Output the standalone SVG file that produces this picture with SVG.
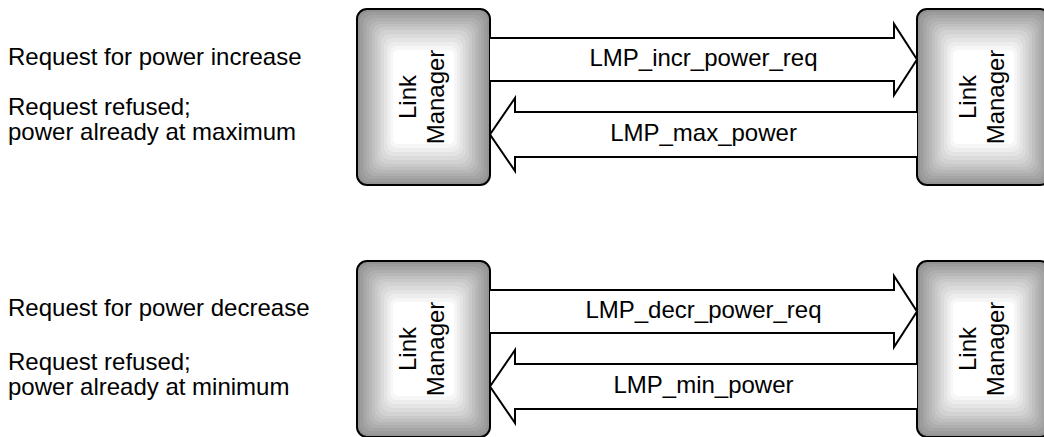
<svg xmlns="http://www.w3.org/2000/svg" width="1044" height="437" viewBox="0 0 1044 437">
  <defs>
    <g id="lmbox">
      <rect x="0" y="0" width="133" height="176" rx="10" fill="#939393"/>
      <rect x="3" y="3" width="127" height="170" rx="9" fill="#9c9c9c"/>
      <rect x="6" y="6" width="121" height="164" rx="9" fill="#a5a5a5"/>
      <rect x="9" y="9" width="115" height="158" rx="9" fill="#aeaeae"/>
      <rect x="12" y="12" width="109" height="152" rx="9" fill="#b7b7b7"/>
      <rect x="15" y="15" width="103" height="146" rx="9" fill="#c0c0c0"/>
      <rect x="18" y="18" width="97" height="140" rx="9" fill="#c9c9c9"/>
      <rect x="21" y="21" width="91" height="134" rx="9" fill="#d2d2d2"/>
      <rect x="24" y="25" width="85" height="126" rx="9" fill="#dbdbdb"/>
      <rect x="27" y="29" width="79" height="118" rx="9" fill="#e4e4e4"/>
      <rect x="30" y="33" width="73" height="110" rx="8" fill="#ededed"/>
      <rect x="33" y="37" width="67" height="102" rx="7" fill="#f6f6f6"/>
      <rect x="36" y="41" width="61" height="94" rx="5" fill="#ffffff"/>
      <rect x="0" y="0" width="133" height="176" rx="10" fill="none" stroke="#000" stroke-width="2"/>
      <text transform="translate(66.5,88) rotate(-90)" text-anchor="middle" class="t"><tspan x="0" y="-8">Link</tspan><tspan x="0" y="20">Manager</tspan></text>
    </g>
  </defs>
  <style>
    .t { font-family: "Liberation Sans", Arial, sans-serif; font-size: 24px; fill: #000; }
    .arrow { fill: #fff; stroke: #000; stroke-width: 2; stroke-linejoin: miter; }
  </style>
  <rect width="1044" height="437" fill="#fff"/>

  <g id="notes">
    <text class="t" x="8" y="65">Request for power increase</text>
    <text class="t" x="8" y="115">Request refused;</text>
    <text class="t" x="8" y="140">power already at maximum</text>
    <text class="t" x="8" y="316">Request for power decrease</text>
    <text class="t" x="8" y="370">Request refused;</text>
    <text class="t" x="8" y="395">power already at minimum</text>
  </g>

  <g id="lm-top-left"><use href="#lmbox" x="357" y="9"/></g>
  <g id="lm-top-right"><use href="#lmbox" x="917" y="9"/></g>
  <g id="lm-bottom-left"><use href="#lmbox" x="357" y="261"/></g>
  <g id="lm-bottom-right"><use href="#lmbox" x="917" y="261"/></g>

  <g id="connectors">
    <path class="arrow" d="M490,38 H894 V24 L917,59.5 L894,95 V81 H490"/>
    <path class="arrow" d="M917,112 H515 V98 L490,134.5 L515,171 V157 H917"/>
    <path class="arrow" d="M490,290 H894 V276 L917,311.5 L894,347 V333 H490"/>
    <path class="arrow" d="M917,364 H515 V350 L490,386.5 L515,423 V409 H917"/>
    <text class="t" x="703.5" y="66" text-anchor="middle">LMP_incr_power_req</text>
    <text class="t" x="703.5" y="141" text-anchor="middle">LMP_max_power</text>
    <text class="t" x="703.5" y="318" text-anchor="middle">LMP_decr_power_req</text>
    <text class="t" x="703.5" y="393" text-anchor="middle">LMP_min_power</text>
  </g>
</svg>
